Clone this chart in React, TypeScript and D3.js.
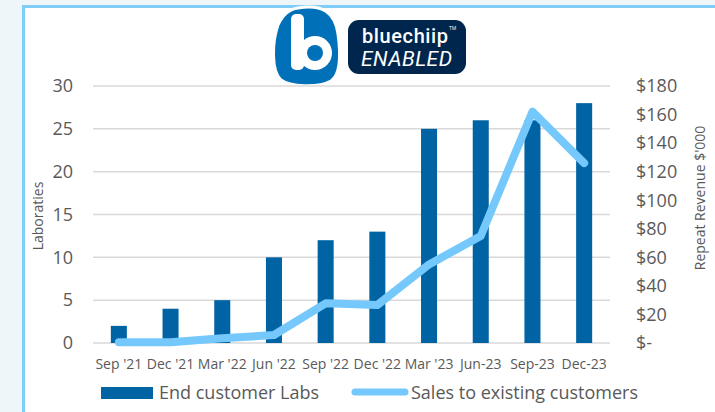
import * as d3 from 'd3'

const categories = ["Sep '21", "Dec '21", "Mar '22", "Jun '22", "Sep '22", "Dec '22", "Mar '23", "Jun-23", "Sep-23", "Dec-23"]
const labs = [2, 4, 5, 10, 12, 13, 25, 26, 26, 28]
const revenue = [0.5, 0.5, 3.3, 5.6, 27.8, 26.6, 55, 75, 162, 126]
const leftTicks = [0, 5, 10, 15, 20, 25, 30]
const rightTicks = [0, 20, 40, 60, 80, 100, 120, 140, 160, 180]

const W = 715
const H = 412
const left = 93
const right = 610
const top = 86
const bottom = 343
const font = "'Open Sans', sans-serif"
const grey = '#595959'
const barColor = '#0063a3'
const lineColor = '#75c8fb'

const App = () => {
  const x = d3.scaleBand().domain(categories).range([left, right]).paddingInner(0.69).paddingOuter(0.345)
  const yL = d3.scaleLinear().domain([0, 30]).range([bottom, top])
  const yR = d3.scaleLinear().domain([0, 180]).range([bottom, top])
  const cx = (c) => x(c) + x.bandwidth() / 2

  const line = d3.line<number>()
    .x((d, i) => cx(categories[i]))
    .y((d) => yR(d))

  const money = (v) => (v === 0 ? '$-' : d3.format('$,')(v))

  return (
    <svg width={W} height={H} style={{position: 'fixed', left: 0, top: 0}} fontFamily={font}>
      <rect width={W} height={H} fill="#eef6f9"/>
      <rect x={23.5} y={6.5} width={W} height={H} fill="#fff" stroke="#80cdf9" strokeWidth={3}/>

      {/* logo */}
      <g>
        <rect x={348} y={20} width={118} height={54} rx={11} fill="#00264d"/>
        <path d="M298 8 C322 4 335 12 338 34 C341 56 341 74 331 81 C318 88 290 87 281 80 C271 71 272 42 278 25 C283 14 290 9 298 8 Z"
              fill="#0070b8" stroke="#fff" strokeWidth={3}/>
        <rect x={291} y={14} width={13} height={56} rx={5} fill="#fff"/>
        <circle cx={315} cy={53} r={17} fill="#fff"/>
        <circle cx={315} cy={53} r={8} fill="#0070b8"/>
        <text x={362} y={43} fill="#fff" fontSize={20} fontWeight={500} textLength={86} fontFamily="Roboto, sans-serif">bluechiip</text>
        <text x={449} y={30} fill="#fff" fontSize={5}>TM</text>
        <text x={361} y={66} fill="#fff" fontSize={21} fontStyle="italic" textLength={91} fontFamily="Roboto, sans-serif">ENABLED</text>
      </g>

      {/* grid */}
      {leftTicks.map((t) => (
        <line key={t} x1={left} x2={right} y1={yL(t)} y2={yL(t)} stroke="#d9d9d9" strokeWidth={1.5}/>
      ))}

      {/* bars */}
      {labs.map((v, i) => (
        <rect key={i} x={x(categories[i])} y={yL(v)} width={x.bandwidth()} height={bottom - yL(v)} fill={barColor}/>
      ))}

      <path d={line(revenue)} fill="none" stroke={lineColor} strokeWidth={8} strokeLinecap="round" strokeLinejoin="round"/>

      {/* left axis */}
      {leftTicks.map((t) => (
        <text key={t} x={73} y={yL(t)} dy="0.35em" textAnchor="end" fontSize={18} fill={grey}>{t}</text>
      ))}
      <text transform={`translate(43,216) rotate(-90)`} textAnchor="middle" fontSize={14} fill={grey}>Laboraties</text>

      {/* right axis */}
      {rightTicks.map((t) => (
        <text key={t} x={636} y={yR(t)} dy="0.35em" fontSize={18} fill={grey}>{money(t)}</text>
      ))}
      <text transform={`translate(705,198) rotate(-90)`} textAnchor="middle" fontSize={14} fill={grey}>Repeat Revenue $'000</text>

      {/* x axis */}
      {categories.map((c) => (
        <text key={c} x={cx(c)} y={369} textAnchor="middle" fontSize={14} fill={grey}>{c}</text>
      ))}

      {/* legend */}
      <rect x={101} y={387} width={52} height={12} fill={barColor}/>
      <text x={159} y={399} fontSize={18} fill={grey}>End customer Labs</text>
      <line x1={355} x2={405} y1={392} y2={392} stroke={lineColor} strokeWidth={7} strokeLinecap="round"/>
      <text x={411} y={399} fontSize={18} fill={grey}>Sales to existing customers</text>
    </svg>
  )
}

export default App
